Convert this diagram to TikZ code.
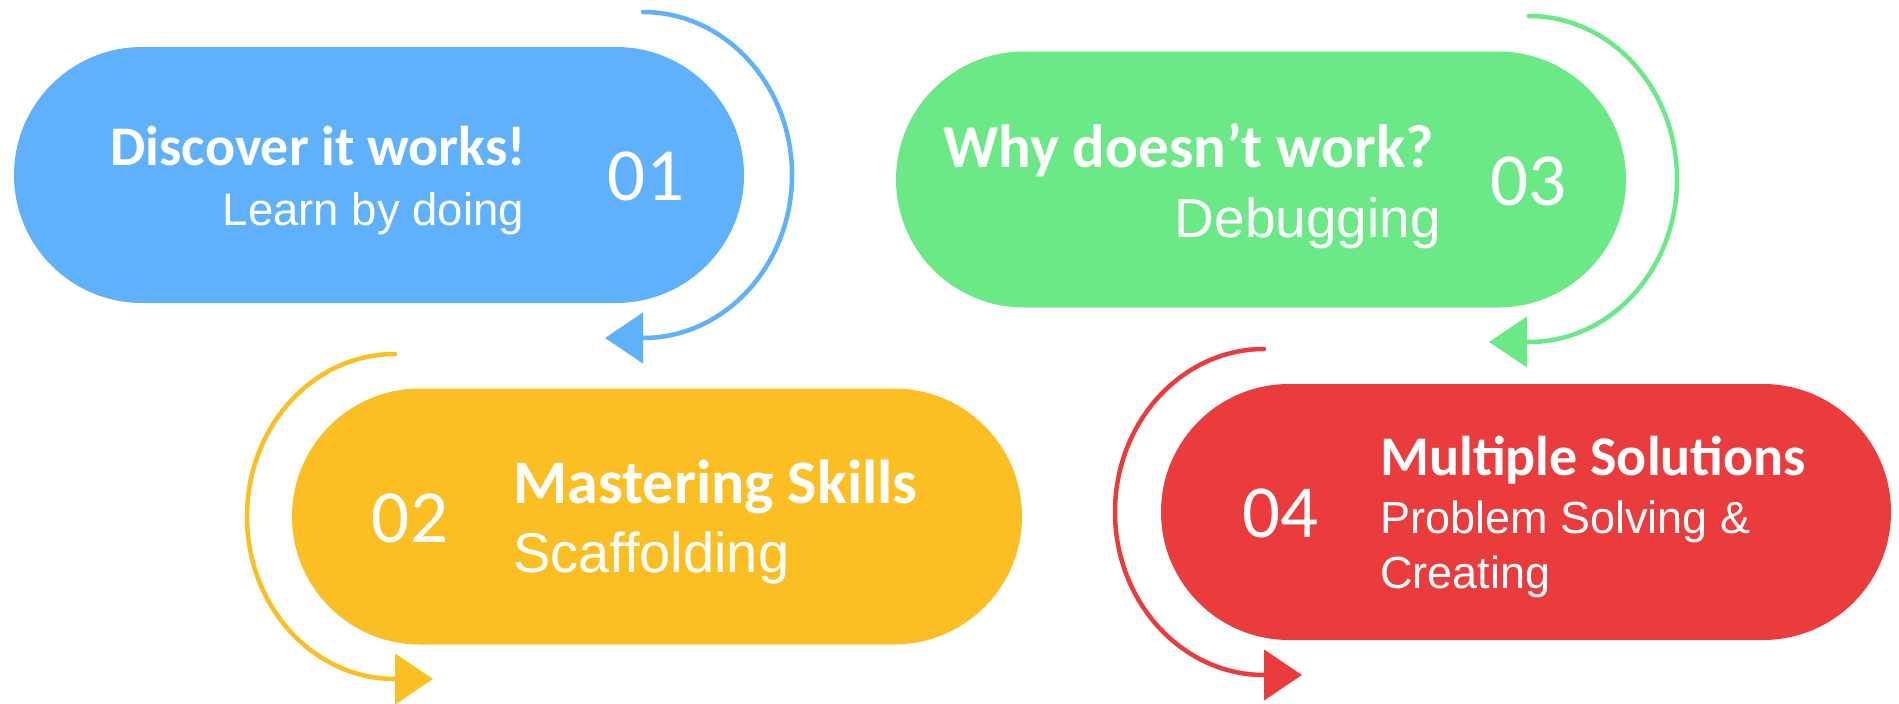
\documentclass[tikz,border=0pt]{standalone}
\usepackage{fontspec}
\usetikzlibrary{arrows.meta}
\newfontfamily\headfont{Carlito}
\newfontfamily\numfont{Carlito}
\newfontfamily\subfont{Liberation Sans}
\definecolor{cblue}{HTML}{60B1FB}
\definecolor{cgreen}{HTML}{6BE986}
\definecolor{corange}{HTML}{FBBF24}
\definecolor{cred}{HTML}{EA3B3D}
\begin{document}
\begin{tikzpicture}[x=1pt,y=-1pt,
  pill/.style={rectangle, rounded corners=128pt, inner sep=0pt,
    minimum width=730pt, minimum height=256pt, draw=none},
  head/.style={text=white, inner sep=0pt, font=\headfont\bfseries\fontsize{#1}{#1}\selectfont},
  sub/.style={text=white, inner sep=0pt, font=\subfont\fontsize{#1}{#1}\selectfont},
  num/.style={text=white, inner sep=0pt, anchor=base, font=\numfont\fontsize{75}{75}\selectfont},
  loopline/.style={line width=4.5pt, line cap=round,
    -{Triangle[length=38pt,width=50pt]}}]

\fill[white] (0,0) rectangle (1899,704);
\useasboundingbox (0,0) rectangle (1899,704);

% the four steps
\node[pill, fill=cblue]   (p1) at (379,175)    {};
\node[pill, fill=cgreen]  (p3) at (1261,179.5) {};
\node[pill, fill=corange] (p2) at (657,516.5)  {};
\node[pill, fill=cred]    (p4) at (1526,512)   {};

% step 01
\node[head=56, anchor=base east] (t1) at (526,165) {Discover it works!};
\node[sub=45.5, anchor=base east] (s1) at (524,225) {Learn by doing};
\node[num] (n1) at (646,200) {01};

% step 03
\node[head=61, anchor=base east] (t3) at (1434,167) {Why doesn’t work?};
\node[sub=55,  anchor=base east] (s3) at (1441,237) {Debugging};
\node[num] (n3) at (1528,205) {03};

% step 02
\node[head=62, anchor=base west] (t2) at (513,503) {Mastering Skills};
\node[sub=56,  anchor=base west] (s2) at (513,572) {Scaffolding};
\node[num] (n2) at (410,542) {02};

% step 04
\node[head=56, anchor=base west] (t4) at (1380,475) {Multiple Solutions};
\node[sub=45,  anchor=base west] (s4a) at (1380,533) {Problem Solving \&};
\node[sub=45,  anchor=base west] (s4b) at (1380,588) {Creating};
\node[num] (n4) at (1280,537) {04};

% curved arrows from one step to the next
\coordinate (a1s) at (643,12);   \coordinate (a1m) at (792,175);
\coordinate (a1e) at (643,338);  \coordinate (a1t) at (605,338);
\draw[loopline, cblue] (a1s) .. controls +(82,0) and +(0,-90) .. (a1m)
  .. controls +(0,90) and +(82,0) .. (a1e) -- (a1t);

\coordinate (a3s) at (1529,16);  \coordinate (a3m) at (1677,179);
\coordinate (a3e) at (1529,342); \coordinate (a3t) at (1489,342);
\draw[loopline, cgreen] (a3s) .. controls +(82,0) and +(0,-90) .. (a3m)
  .. controls +(0,90) and +(82,0) .. (a3e) -- (a3t);

\coordinate (a2s) at (395,354);  \coordinate (a2m) at (247,516.5);
\coordinate (a2e) at (395,679);  \coordinate (a2t) at (433,679);
\draw[loopline, corange] (a2s) .. controls +(-82,0) and +(0,-90) .. (a2m)
  .. controls +(0,90) and +(-82,0) .. (a2e) -- (a2t);

\coordinate (a4s) at (1264,349); \coordinate (a4m) at (1115,512);
\coordinate (a4e) at (1264,675); \coordinate (a4t) at (1302,675);
\draw[loopline, cred] (a4s) .. controls +(-82,0) and +(0,-90) .. (a4m)
  .. controls +(0,90) and +(-82,0) .. (a4e) -- (a4t);
\end{tikzpicture}
\end{document}
